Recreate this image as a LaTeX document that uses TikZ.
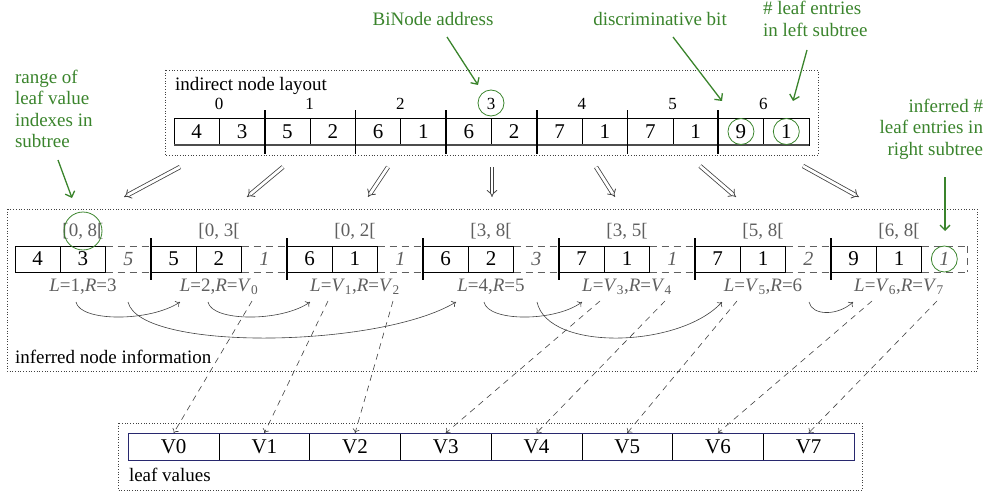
\documentclass[tikz,border=0pt]{standalone}
\usepackage{fontspec}
\setmainfont{Liberation Serif}
\usetikzlibrary{arrows.meta}
\definecolor{ggreen}{RGB}{58,132,44}
\definecolor{lgray}{RGB}{95,95,95}
\definecolor{dgray}{RGB}{65,65,65}
\definecolor{navyb}{RGB}{40,40,110}
\tikzset{
  lbl/.style={font=\fontsize{19}{21.5}\selectfont, inner sep=0pt, outer sep=0pt},
  cellt/.style={font=\fontsize{21}{24}\selectfont, inner sep=0pt, outer sep=0pt},
  idx/.style={font=\fontsize{17}{19}\selectfont, inner sep=0pt},
  gtxt/.style={lbl, text=ggreen},
  graylbl/.style={lbl, text=lgray},
  dotbox/.style={draw=black!75, dotted, line width=0.7pt},
  cellbox/.style={draw=black, line width=0.6pt, cellt, anchor=north west},
  thicksep/.style={draw=black, line width=1.8pt},
  garrow/.style={draw=ggreen, line width=1.3pt, -{Straight Barb[length=5pt,width=10pt]}},
  gcirc/.style={draw=ggreen, line width=0.8pt},
  dbl/.style={draw=dgray, double, double distance=2.8pt, line width=0.8pt, -{Implies}},
  curv/.style={draw=dgray, line width=0.6pt, -{To[length=4pt,width=7pt]}},
  dsh/.style={draw=dgray, line width=0.6pt, dash pattern=on 6pt off 5pt, -{To[length=4pt,width=7pt]}},
  gdash/.style={draw=lgray, line width=0.6pt, dash pattern=on 7pt off 5pt},
}
\begin{document}
\begin{tikzpicture}[x=1pt,y=-1pt]
\useasboundingbox (0,0) rectangle (991,495);

% ---------- top: indirect node layout ----------
\draw[dotbox] (165,70) rectangle (818,155);
\node[lbl, anchor=west] (toplbl) at (175,86) {indirect node layout};
\foreach \v [count=\c from 0] in {4,3,5,2,6,1,6,2,7,1,7,1,9,1} {
  \node[cellbox, minimum width=45.36pt, minimum height=27pt] (t\c) at ({174+45.357*\c},118) {\v};
}
\draw[line width=1.3pt, black!70] (174,145) -- (809,145);
\foreach \k in {1,...,6} {
  \draw[thicksep] ({174+90.714*\k},110) -- ({174+90.714*\k},154);
}
\foreach \k in {0,...,6} {
  \node[idx] (ix\k) at ({219+90.714*\k},104) {\k};
}

% ---------- middle: inferred node information ----------
\draw[dotbox] (7,209) rectangle (977,371);
\node[lbl, anchor=west] (midlbl) at (15,357) {inferred node information};
\foreach \k/\a/\b/\n in {0/4/3/5,1/5/2/1,2/6/1/1,3/6/2/3,4/7/1/1,5/7/1/2,6/9/1/1} {
  \pgfmathsetmacro\gx{15+136*\k}
  \node[cellbox, minimum width=45.33pt, minimum height=26pt] (m\k a) at (\gx,246) {\a};
  \node[cellbox, minimum width=45.33pt, minimum height=26pt] (m\k b) at (\gx+45.33,246) {\b};
  \node[graylbl, font=\fontsize{20}{22}\selectfont] (m\k n) at (\gx+113.33,259) {\textit{\n}};
  \draw[gdash] (\gx+90.67,246) -- (\gx+136,246);
  \draw[gdash] (\gx+90.67,272) -- (\gx+136,272);
}
\draw[gdash] (967,246) -- (967,272);
\foreach \k in {1,...,6} {
  \draw[thicksep] ({15+136*\k},238) -- ({15+136*\k},280);
}
\foreach \k/\t in {0/{[0, 8[},1/{[0, 3[},2/{[0, 2[},3/{[3, 8[},4/{[3, 5[},5/{[5, 8[},6/{[6, 8[}} {
  \node[graylbl] (rg\k) at ({83+136*\k},231) {\t};
}
\foreach \k/\t in {
  0/{\textit{L}=1,\textit{R}=3},
  1/{\textit{L}=2,\textit{R}=\textit{V}\textsubscript{0}},
  2/{\textit{L}=\textit{V}\textsubscript{1},\textit{R}=\textit{V}\textsubscript{2}},
  3/{\textit{L}=4,\textit{R}=5},
  4/{\textit{L}=\textit{V}\textsubscript{3},\textit{R}=\textit{V}\textsubscript{4}},
  5/{\textit{L}=\textit{V}\textsubscript{5},\textit{R}=6},
  6/{\textit{L}=\textit{V}\textsubscript{6},\textit{R}=\textit{V}\textsubscript{7}}} {
  \node[graylbl] (lr\k) at ({83+136*\k},287) {\t};
}

% ---------- bottom: leaf values ----------
\draw[dotbox] (118,423) rectangle (862,490);
\node[lbl, anchor=west] (leaflbl) at (129,475) {leaf values};
\foreach \i in {0,...,7} {
  \node[cellbox, minimum width=90.71pt, minimum height=27pt] (v\i) at ({128.3+90.71*\i},433) {V\i};
}
\draw[navyb, line width=0.8pt] (128.3,433) rectangle (854,460);

% ---------- double arrows top -> middle ----------
\foreach \k/\sx/\sy/\ex in {0/180/167/124,1/283/167/247,2/388/167/368,3/492/167/492,4/596/167/615,5/700/166/736,6/803/166/859} {
  \coordinate (ds\k) at (\sx,\sy);
  \coordinate (de\k) at (\ex,197);
  \draw[dbl] (ds\k) -- (de\k);
}

% ---------- curved arrows (children) ----------
\coordinate (c0s) at (76,302);  \coordinate (c0e) at (180,302);
\coordinate (c1s) at (128,302); \coordinate (c1e) at (456,302);
\coordinate (c2s) at (208,302); \coordinate (c2e) at (310,302);
\coordinate (c3s) at (484,302); \coordinate (c3e) at (582,302);
\coordinate (c4s) at (537,302); \coordinate (c4e) at (722,302);
\coordinate (c5s) at (809,302); \coordinate (c5e) at (853,302);
\draw[curv] (c0s) .. controls (80,322) and (150,322) .. (c0e);
\draw[curv] (c1s) .. controls (140,352) and (380,348) .. (c1e);
\draw[curv] (c2s) .. controls (212,322) and (282,322) .. (c2e);
\draw[curv] (c3s) .. controls (488,322) and (555,322) .. (c3e);
\draw[curv] (c4s) .. controls (548,352) and (680,348) .. (c4e);
\draw[curv] (c5s) .. controls (812,316) and (838,316) .. (c5e);

% ---------- dashed arrows to leaf values ----------
\foreach \i/\sx in {0/252,1/328,2/393,3/600,4/665,5/737,6/872,7/937} {
  \coordinate (ls\i) at (\sx,301);
  \draw[dsh] (ls\i) -- (v\i.north);
}

% ---------- green annotations ----------
\node[gtxt] (binode) at (433,19) {BiNode address};
\node[gtxt] (discbit) at (660,19) {discriminative bit};
\node[gtxt, align=left, anchor=west] (leftsub) at (763,19) {\# leaf entries\\in left subtree};
\node[gtxt, align=left, anchor=west] (rangelbl) at (15,109) {range of\\leaf value\\indexes in\\subtree};
\node[gtxt, align=right, anchor=east] (rightsub) at (983,129) {inferred \#\\leaf entries in\\right subtree};

\coordinate (g1s) at (447,37);  \coordinate (g1e) at (478,85);
\coordinate (g2s) at (673,37);  \coordinate (g2e) at (722,101);
\coordinate (g3s) at (807,50);  \coordinate (g3e) at (793,101);
\coordinate (g4s) at (58,160);  \coordinate (g4e) at (72,198);
\coordinate (g5s) at (945,177); \coordinate (g5e) at (945,231);
\draw[garrow] (g1s) -- (g1e);
\draw[garrow] (g2s) -- (g2e);
\draw[garrow] (g3s) -- (g3e);
\draw[garrow] (g4s) -- (g4e);
\draw[garrow] (g5s) -- (g5e);

\draw[gcirc] (491,103) circle (13);
\draw[gcirc] (t12.center) circle (13);
\draw[gcirc] (t13.center) circle (13);
\draw[gcirc] (83,231) circle (19);
\draw[gcirc] (m6n.center) circle (13);
\end{tikzpicture}
\end{document}
